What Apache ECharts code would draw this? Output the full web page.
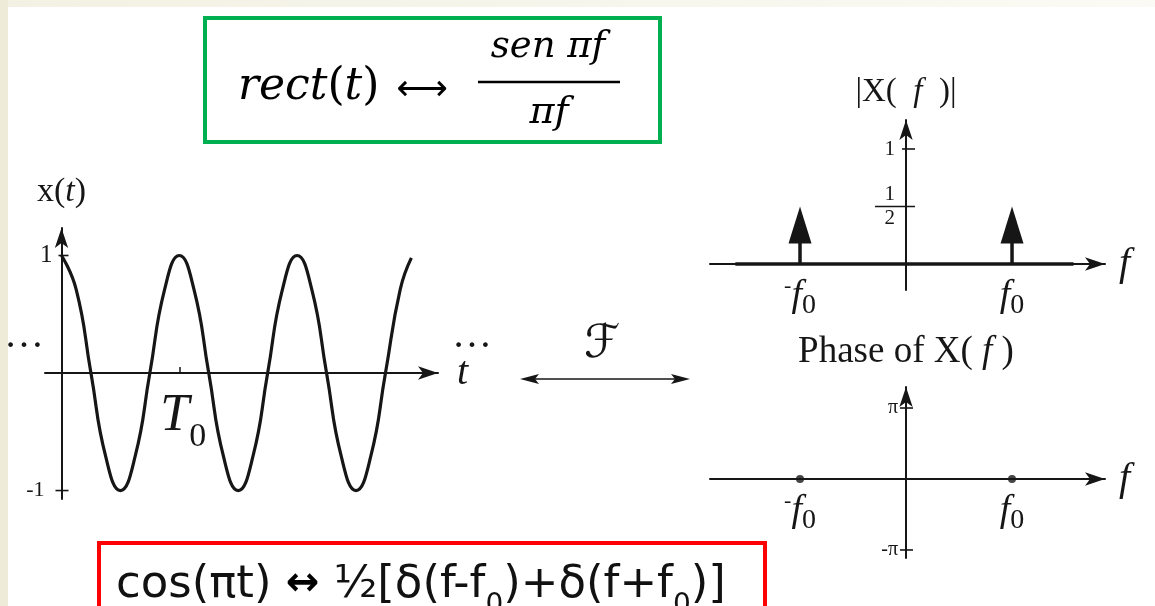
<!DOCTYPE html>
<html>
<head>
<meta charset="utf-8">
<script src="https://cdn.jsdelivr.net/npm/echarts@6/dist/echarts.min.js"></script>
<style>
  html, body { margin: 0; padding: 0; background: #ffffff; }
  #chart { width: 1155px; height: 606px; }
</style>
</head>
<body>
<div id="chart"></div>
<script>
// x(t) = cos(2*pi*t/T0): samples every eighth of a period, t in units of T0
const tSamples = [0, 0.125, 0.25, 0.375, 0.5, 0.625, 0.75, 0.875,
                  1, 1.125, 1.25, 1.375, 1.5, 1.625, 1.75, 1.875,
                  2, 2.125, 2.25, 2.375, 2.5, 2.625, 2.75, 2.875, 2.97];
const xSamples = [1, 0.71, 0, -0.71, -1, -0.71, 0, 0.71,
                  1, 0.71, 0, -0.71, -1, -0.71, 0, 0.71,
                  1, 0.71, 0, -0.71, -1, -0.71, 0, 0.71, 0.98];

// Spectrum: two impulses of weight 1/2 at -f0 and +f0 (f in units of f0)
const spikeFreqs = [-1, 1];
const spikeWeights = [0.5, 0.5];
// |X(f)| = 0 along the rest of the frequency axis
const zeroMagFreqs = [-1.61, 1.58];
// Phase of X(f), in units of pi
const phaseFreqs = [-1, 1];
const phaseValues = [0, 0];

// Tick positions
const timeTicks = [1];           // T0
const levelTicks = [-1, 1];      // x(t) = -1, 1
const magTicks = [0.5, 1];       // |X(f)| = 1/2, 1
const freqTicks = [-1, 1];       // -f0, f0
const phaseTicks = [-1, 1];      // -pi, pi

const ink = '#161616';
const serif = 'Liberation Serif, Times New Roman, serif';

const chart = echarts.init(document.getElementById('chart'), null, { renderer: 'canvas' });

// small cross ticks drawn through a vertical axis at x = 0
function crossTick(arms) {
  return function (params, api) {
    const v = api.value(1);
    const p = api.coord([0, v]);
    const a = arms(v);
    return {
      type: 'line',
      shape: { x1: p[0] - a[0], y1: p[1], x2: p[0] + a[1], y2: p[1] },
      style: { stroke: ink, lineWidth: 1.6 }
    };
  };
}

// tick label placed next to a data point on one of the axes
function tickLabel(textOf, place, rich) {
  return function (params, api) {
    const p = api.coord([api.value(0), api.value(1)]);
    const v = place(api.value(0), api.value(1));
    return {
      type: 'text',
      x: p[0] + v.dx, y: p[1] + v.dy,
      style: {
        text: textOf(api.value(0), api.value(1)),
        align: v.align, verticalAlign: v.vAlign,
        fontFamily: serif, fontSize: 20, fill: ink,
        rich: rich
      }
    };
  };
}

function baseAxis(extra) {
  return Object.assign({
    type: 'value',
    splitLine: { show: false },
    axisLine: {
      show: true, onZero: true,
      symbol: ['none', 'arrow'], symbolSize: [10, 20],
      lineStyle: { color: ink, width: 2 }
    },
    axisTick: { show: false },
    axisLabel: { show: false },
    nameMoveOverlap: false
  }, extra);
}

// subscripts sit low: a short token box aligned to the bottom of a tall line
const fRich = {
  m: { fontFamily: serif, fontSize: 22, fill: ink, lineHeight: 14, verticalAlign: 'top' },
  f: { fontFamily: serif, fontStyle: 'italic', fontSize: 38, fill: ink, lineHeight: 42 },
  s: { fontFamily: serif, fontSize: 28, fill: ink, height: 22, lineHeight: 22, verticalAlign: 'bottom' }
};
const freqText = f => (f < 0 ? '{m|-}{f|f}{s|0}' : '{f|f}{s|0}');
const belowAxis = () => ({ dx: 0, dy: 11, align: 'center', vAlign: 'top' });

const option = {
  backgroundColor: '#ffffff',
  animation: false,
  grid: [
    { left: 45, top: 228, width: 393, height: 271, outerBoundsMode: 'none' },
    { left: 710, top: 120, width: 395, height: 170, outerBoundsMode: 'none' },
    { left: 710, top: 387, width: 395, height: 171, outerBoundsMode: 'none' }
  ],
  xAxis: [
    baseAxis({
      gridIndex: 0, min: -0.14, max: 3.196,
      name: '{i|t}', nameLocation: 'end', nameGap: 19,
      nameTextStyle: { rich: { i: { fontFamily: serif, fontStyle: 'italic', fontSize: 40, color: ink } } },
      axisTick: { show: true, customValues: timeTicks, inside: true, length: 6, lineStyle: { color: ink, width: 1.5 } }
    }),
    baseAxis({
      gridIndex: 1, min: -1.849, max: 1.877,
      name: '{i|f}', nameLocation: 'end', nameGap: 14,
      nameTextStyle: { rich: { i: { fontFamily: serif, fontStyle: 'italic', fontSize: 40, color: ink } } }
    }),
    baseAxis({
      gridIndex: 2, min: -1.849, max: 1.877,
      name: '{i|f}', nameLocation: 'end', nameGap: 14,
      nameTextStyle: { rich: { i: { fontFamily: serif, fontStyle: 'italic', fontSize: 40, color: ink } } }
    })
  ],
  yAxis: [
    baseAxis({
      gridIndex: 0, min: -1.072, max: 1.234,
      name: '{r|x(}{i|t}{r|)}', nameLocation: 'end', nameGap: 36,
      nameTextStyle: {
        align: 'center', verticalAlign: 'middle',
        rich: {
          r: { fontFamily: serif, fontSize: 34, color: ink },
          i: { fontFamily: serif, fontStyle: 'italic', fontSize: 34, color: ink }
        }
      }
    }),
    baseAxis({
      gridIndex: 1, min: -0.226, max: 1.252,
      name: '|X(  {i|f}  )|', nameLocation: 'end', nameGap: 28,
      nameTextStyle: {
        align: 'center', verticalAlign: 'middle',
        fontFamily: serif, fontSize: 33, color: ink,
        rich: { i: { fontFamily: serif, fontStyle: 'italic', fontSize: 33, color: ink } }
      }
    }),
    baseAxis({
      gridIndex: 2, min: -1.113, max: 1.296,
      name: 'Phase of X( {i|f} )', nameLocation: 'end', nameGap: 35,
      nameTextStyle: {
        align: 'center', verticalAlign: 'middle',
        fontFamily: serif, fontSize: 37, color: ink,
        rich: { i: { fontFamily: serif, fontStyle: 'italic', fontSize: 37, color: ink } }
      }
    })
  ],
  series: [
    // ---- x(t) ----
    {
      name: 'x(t)', type: 'line', xAxisIndex: 0, yAxisIndex: 0,
      data: tSamples.map((t, i) => [t, xSamples[i]]),
      smooth: true, showSymbol: false, silent: true,
      lineStyle: { color: ink, width: 3.2 }
    },
    {
      type: 'custom', xAxisIndex: 0, yAxisIndex: 0, silent: true,
      data: levelTicks.map(v => [0, v]),
      renderItem: crossTick(v => (v < 0 ? [6, 7] : [3, 7]))
    },
    {
      type: 'custom', xAxisIndex: 0, yAxisIndex: 0, silent: true,
      data: levelTicks.map(v => [0, v]),
      renderItem: tickLabel(
        (x, v) => (v < 0 ? '{n|-1}' : '{p|1}'),
        (x, v) => ({ dx: v < 0 ? -17 : -9, dy: 0, align: 'right', vAlign: 'middle' }),
        {
          p: { fontFamily: serif, fontSize: 25, fill: ink },
          n: { fontFamily: serif, fontSize: 22, fill: ink }
        })
    },
    {
      type: 'custom', xAxisIndex: 0, yAxisIndex: 0, silent: true,
      data: timeTicks.map(t => [t, 0]),
      renderItem: tickLabel(
        () => '{T|T}{s|0}',
        () => ({ dx: 4, dy: 13, align: 'center', vAlign: 'top' }),
        {
          T: { fontFamily: serif, fontStyle: 'italic', fontSize: 52, fill: ink, lineHeight: 60 },
          s: { fontFamily: serif, fontSize: 34, fill: ink, height: 18, lineHeight: 18, verticalAlign: 'bottom' }
        })
    },

    // ---- |X(f)| ----
    {
      name: '|X(f)| = 0', type: 'line', xAxisIndex: 1, yAxisIndex: 1,
      data: zeroMagFreqs.map(f => [f, 0]),
      showSymbol: false, silent: true,
      lineStyle: { color: ink, width: 3.5 }
    },
    {
      name: 'impulses', type: 'custom', xAxisIndex: 1, yAxisIndex: 1, silent: true,
      data: spikeFreqs.map((f, i) => [f, spikeWeights[i]]),
      renderItem: function (params, api) {
        const f = api.value(0);
        const base = api.coord([f, 0]);
        const tip = api.coord([f, api.value(1)]);
        const headLen = 37, halfW = 11.5;
        return {
          type: 'group',
          children: [
            { type: 'line', shape: { x1: base[0], y1: base[1], x2: base[0], y2: tip[1] + headLen - 1 },
              style: { stroke: ink, lineWidth: 3.5 } },
            { type: 'polygon',
              shape: { points: [[tip[0], tip[1]], [tip[0] - halfW, tip[1] + headLen], [tip[0] + halfW, tip[1] + headLen]] },
              style: { fill: ink } }
          ]
        };
      }
    },
    {
      type: 'custom', xAxisIndex: 1, yAxisIndex: 1, silent: true,
      data: magTicks.map(v => [0, v]),
      renderItem: crossTick(v => (v === 1 ? [4, 9] : [31, 9]))
    },
    {
      type: 'custom', xAxisIndex: 1, yAxisIndex: 1, silent: true,
      data: magTicks.map(v => [0, v]),
      renderItem: tickLabel(
        (x, v) => (v === 1 ? '{d|1}' : '{d|1}\n{d|2}'),
        () => ({ dx: -11, dy: 0, align: 'right', vAlign: 'middle' }),
        { d: { fontFamily: serif, fontSize: 21, fill: ink, lineHeight: 24 } })
    },
    {
      type: 'custom', xAxisIndex: 1, yAxisIndex: 1, silent: true,
      data: freqTicks.map(f => [f, 0]),
      renderItem: tickLabel(freqText, belowAxis, fRich)
    },

    // ---- phase of X(f) ----
    {
      name: 'phase', type: 'scatter', xAxisIndex: 2, yAxisIndex: 2, silent: true,
      data: phaseFreqs.map((f, i) => [f, phaseValues[i]]),
      symbol: 'circle', symbolSize: 8,
      itemStyle: { color: ink }
    },
    {
      type: 'custom', xAxisIndex: 2, yAxisIndex: 2, silent: true,
      data: phaseTicks.map(v => [0, v]),
      renderItem: crossTick(() => [6, 7])
    },
    {
      type: 'custom', xAxisIndex: 2, yAxisIndex: 2, silent: true,
      data: phaseTicks.map(v => [0, v]),
      renderItem: tickLabel(
        (x, v) => (v < 0 ? '-π' : 'π'),
        () => ({ dx: -8, dy: 0, align: 'right', vAlign: 'middle' }),
        null)
    },
    {
      type: 'custom', xAxisIndex: 2, yAxisIndex: 2, silent: true,
      data: freqTicks.map(f => [f, 0]),
      renderItem: tickLabel(freqText, belowAxis, fRich)
    }
  ],
  graphic: [
    // slide margins
    { type: 'rect', shape: { x: 0, y: 0, width: 8, height: 606 }, style: { fill: '#EEEBD9' }, silent: true, z: -10 },
    { type: 'rect', shape: { x: 8, y: 0, width: 1147, height: 7 },
      style: { fill: new echarts.graphic.LinearGradient(0, 0, 1, 0, [
        { offset: 0, color: '#F3F1E3' }, { offset: 1, color: '#FBFAF4' }]) },
      silent: true, z: -10 },

    // rect(t) <-> sen(pi f)/(pi f)
    { type: 'rect', shape: { x: 205, y: 18, width: 455, height: 124 },
      style: { fill: 'none', stroke: '#00B050', lineWidth: 4 }, silent: true },
    { type: 'text', x: 238, y: 88, silent: true,
      style: {
        text: '{i|rect}{u|(}{i|t}{u|)}', verticalAlign: 'middle', align: 'left',
        rich: {
          i: { fontFamily: 'DejaVu Serif', fontStyle: 'italic', fontSize: 44, fill: '#000' },
          u: { fontFamily: 'DejaVu Serif', fontSize: 44, fill: '#000' }
        }
      } },
    { type: 'text', x: 422, y: 91, silent: true,
      style: { text: '⟷', fontFamily: 'DejaVu Sans', fontSize: 36, fill: '#000', align: 'center', verticalAlign: 'middle' } },
    { type: 'text', x: 548, y: 47, silent: true,
      style: { text: 'sen πf', fontFamily: 'DejaVu Serif', fontStyle: 'italic', fontSize: 37, fill: '#000',
               align: 'center', verticalAlign: 'middle' } },
    { type: 'line', shape: { x1: 478, y1: 82, x2: 620, y2: 82 }, style: { stroke: '#000', lineWidth: 2.5 }, silent: true },
    { type: 'text', x: 549, y: 113, silent: true,
      style: { text: 'πf', fontFamily: 'DejaVu Serif', fontStyle: 'italic', fontSize: 38, fill: '#000',
               align: 'center', verticalAlign: 'middle' } },

    // cos(pi t) <-> 1/2[delta(f-f0)+delta(f+f0)]
    { type: 'rect', shape: { x: 99, y: 543, width: 666, height: 100 },
      style: { fill: 'none', stroke: '#FF0000', lineWidth: 4 }, silent: true },
    { type: 'text', x: 116, y: 585, silent: true,
      style: {
        text: '{a|cos(πt) }{b|↔}{a| ½[δ(f-f}{s|0}{a|)+δ(f+f}{s|0}{a|)]}',
        verticalAlign: 'middle', align: 'left',
        rich: {
          a: { fontFamily: 'DejaVu Sans', fontSize: 45, fill: '#111', lineHeight: 60 },
          b: { fontFamily: 'DejaVu Sans', fontSize: 40, fontWeight: 'bold', fill: '#000', lineHeight: 60 },
          s: { fontFamily: 'DejaVu Sans', fontSize: 28, fill: '#111', height: 18, lineHeight: 18, verticalAlign: 'bottom' }
        }
      } },

    // Fourier transform pair arrow
    { type: 'line', shape: { x1: 530, y1: 379, x2: 680, y2: 379 }, style: { stroke: ink, lineWidth: 1.6 }, silent: true },
    { type: 'polygon', shape: { points: [[520, 379], [539, 374], [535, 379], [539, 384]] }, style: { fill: ink }, silent: true },
    { type: 'polygon', shape: { points: [[690, 379], [671, 374], [675, 379], [671, 384]] }, style: { fill: ink }, silent: true },
    { type: 'text', x: 602, y: 345, silent: true,
      style: { text: 'ℱ', fontFamily: 'DejaVu Serif, DejaVu Sans', fontSize: 46, fill: ink, align: 'center', verticalAlign: 'middle' } },

    // periodic continuation marks
    { type: 'text', x: 24, y: 336, silent: true,
      style: { text: '…', fontFamily: serif, fontSize: 40, fill: ink, align: 'center', verticalAlign: 'middle' } },
    { type: 'text', x: 472, y: 336, silent: true,
      style: { text: '…', fontFamily: serif, fontSize: 40, fill: ink, align: 'center', verticalAlign: 'middle' } }
  ]
};

chart.setOption(option);
</script>
</body>
</html>
